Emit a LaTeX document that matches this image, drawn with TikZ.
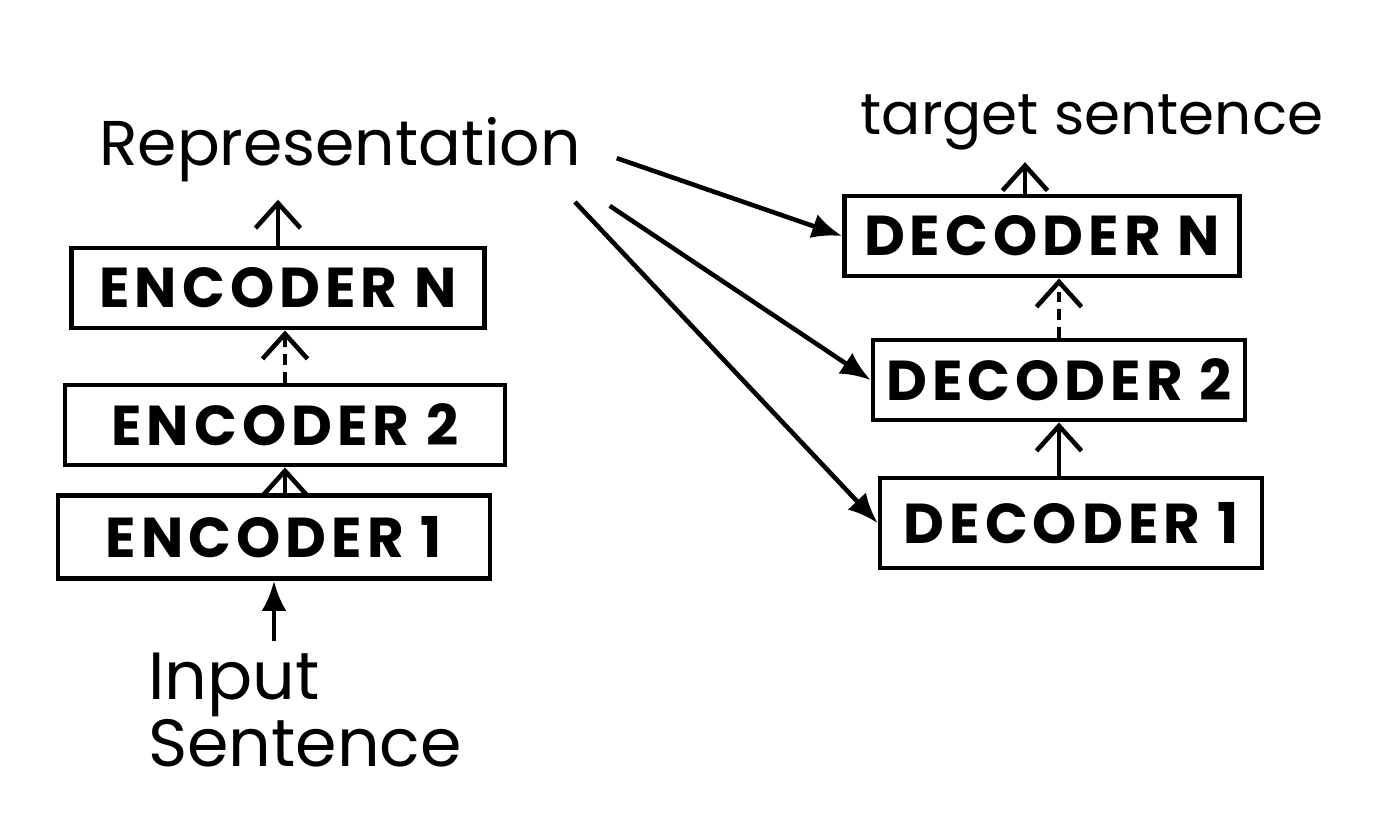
\documentclass[tikz,border=0pt]{standalone}
\usepackage{fontspec}
\setmainfont{Poppins}
\usetikzlibrary{arrows.meta}

\begin{document}
\begin{tikzpicture}[
		coderbox/.style={draw,line width=1.4pt,minimum height=0.8cm,inner sep=0pt,font=\fontsize{16}{16}\selectfont\bfseries\addfontfeature{LetterSpace=9}},
		handtext/.style={font=\fontsize{18}{19}\selectfont},
		uparrow/.style={line width=1.3pt,-{Straight Barb[length=2.5mm,width=4.5mm]}},
		dotarrow/.style={uparrow,dash pattern=on 3pt off 2pt},
		feedarrow/.style={line width=1.3pt,-{Latex[length=3mm,width=2.5mm]}}
	]
	\useasboundingbox (0,0) rectangle (14,-8.37);
	\node[handtext] (rep) at (3.4,-1.5) {Representation};
	\node[handtext,font=\fontsize{16.5}{19}\selectfont] (tgt) at (10.92,-1.22) {target sentence};
	\node[handtext,font=\fontsize{19}{19}\selectfont,align=left] (inp) at (3.05,-7.1) {Input\\Sentence};

	\node[coderbox,minimum width=4.13cm] (encN) at (2.78,-2.88) {ENCODER N};
	\node[coderbox,minimum width=4.4cm] (enc2) at (2.85,-4.25) {ENCODER 2};
	\node[coderbox,minimum width=4.32cm,minimum height=0.83cm] (enc1) at (2.74,-5.37) {ENCODER 1};

	\node[coderbox,minimum width=3.95cm] (decN) at (10.42,-2.36) {DECODER N};
	\node[coderbox,minimum width=3.72cm] (dec2) at (10.59,-3.8) {DECODER 2};
	\node[coderbox,minimum width=3.82cm,minimum height=0.9cm] (dec1) at (10.71,-5.23) {DECODER 1};

	\draw[feedarrow] (inp.north -| enc1.south) -- (enc1.south);
	\draw[uparrow] (enc1.north -| enc2.south) -- (enc2.south);
	\draw[dotarrow] (enc2.north) -- (enc2.north |- encN.south);
	\draw[uparrow,shorten >=0.05cm] (encN.north) -- (encN.north |- rep.south);

	\draw[uparrow] (dec2.south |- dec1.north) -- (dec2.south);
	\draw[dotarrow] (dec2.north) -- (dec2.north |- decN.south);
	\draw[uparrow] ([xshift=-0.17cm]decN.north) -- ([xshift=-0.17cm]decN.north |- tgt.south);

	\draw[feedarrow,shorten <=0.25cm] (rep.east) -- (decN.west);
	\draw[feedarrow,shorten <=0.2cm] (rep.south east) -- (dec2.west);
	\draw[feedarrow,shorten <=0.1cm] ([xshift=-0.25cm]rep.south east) -- (dec1.west);
\end{tikzpicture}
\end{document}
